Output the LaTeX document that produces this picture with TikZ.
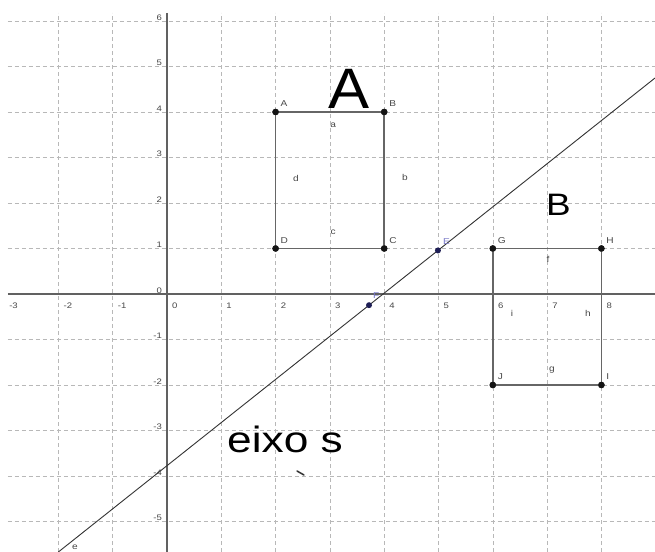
\documentclass[tikz,border=0pt]{standalone}
\usepackage{fontspec}
\setmainfont{Liberation Sans}
\usetikzlibrary{calc}
\newcommand{\sx}[2][1.19]{\scalebox{#1}[1]{#2}}
\definecolor{ptblue}{RGB}{30,30,85}
\definecolor{lblblue}{RGB}{120,120,200}
\begin{document}
\begin{tikzpicture}[x=54.3pt,y=45.5pt,
  gridln/.style={draw=black!28, line width=0.6pt, dash pattern=on 4pt off 3pt},
  axisln/.style={draw=black!62, line width=1.3pt},
  edgeln/.style={draw=black!60, line width=1.5pt},
  lineln/.style={draw=black!80, line width=0.9pt},
  pt/.style={circle, fill=black!92, inner sep=0pt, minimum size=6.5pt},
  bpt/.style={circle, fill=ptblue, inner sep=0pt, minimum size=6pt},
  tick/.style={font=\fontsize{8}{9}\selectfont, text=black!72, inner sep=0pt},
  plbl/.style={font=\fontsize{8.5}{9}\selectfont, text=black!72, inner sep=0pt},
  slbl/.style={font=\fontsize{8.5}{9}\selectfont, text=black!72, inner sep=0pt},
  elbl/.style={font=\fontsize{8.5}{9}\selectfont, text=lblblue, inner sep=0pt},
  big/.style={inner sep=0pt, text=black, text depth=0pt}]
% canvas
\fill[white] (-3.0755,-5.6703) rectangle (8.9871,6.4615);
\useasboundingbox (-3.0755,-5.6703) rectangle (8.9871,6.4615);
% grid
\foreach \i in {-2,...,8} \draw[gridln] (\i,-5.6703) -- (\i,6.176);
\foreach \j in {-5,...,6} \draw[gridln] (-2.93,\j) -- (8.9871,\j);
% axes
\coordinate (xl) at (-2.93,0);
\coordinate (xr) at (8.9871,0);
\coordinate (yb) at (0,-5.6703);
\coordinate (yt) at (0,6.176);
\draw[axisln] (xl) -- (xr);
\draw[axisln] (yb) -- (yt);
% tick labels
\foreach \i [count=\k] in {-3,...,8}
  \node[tick, anchor=base west] (tx\k) at (\i+0.092,-0.308) {\sx{\i}};
\foreach \j [count=\k] in {-5,...,6}
  \node[tick, anchor=base east] (ty\k) at (-0.09,\j+0.02) {\sx{\j}};
% rectangle A
\node[pt] (A) at (2,4) {};
\node[pt] (B) at (4,4) {};
\node[pt] (C) at (4,1) {};
\node[pt] (D) at (2,1) {};
\draw[edgeln] (A.center) -- (B.center) -- (C.center) -- (D.center) -- cycle;
\foreach \p in {A,B,C,D} \node[pt] at (\p) {};
% rectangle B
\node[pt] (G) at (6,1) {};
\node[pt] (H) at (8,1) {};
\node[pt] (I) at (8,-2) {};
\node[pt] (J) at (6,-2) {};
\draw[edgeln] (G.center) -- (H.center) -- (I.center) -- (J.center) -- cycle;
\foreach \p in {G,H,I,J} \node[pt] at (\p) {};
% point labels
\foreach \p in {A,B,C,D,G,H,I,J}
  \node[plbl, anchor=base west] (l\p) at ($(\p)+(0.09,0.11)$) {\sx{\p}};
% side labels
\node[slbl] (sa) at (3.06,3.71) {\sx{a}};
\node[slbl] (sb) at (4.383,2.571) {\sx{b}};
\node[slbl] (sc) at (3.06,1.363) {\sx{c}};
\node[slbl] (sd) at (2.376,2.549) {\sx{d}};
\node[slbl] (sf) at (7.017,0.769) {\sx{f}};
\node[slbl] (sg) at (7.09,-1.67) {\sx{g}};
\node[slbl] (sh) at (7.753,-0.418) {\sx{h}};
\node[slbl] (si) at (6.354,-0.418) {\sx{i}};
% axis line e
\coordinate (s1) at (-2.001,-5.6703);
\coordinate (s2) at (8.9871,4.747);
\draw[lineln] (s1) -- (s2);
\node[slbl] (se) at (-1.694,-5.56) {\sx{e}};
\node[bpt] (F) at ($(s1)!0.5207!(s2)$) {};
\node[bpt] (E) at ($(s1)!0.6362!(s2)$) {};
\node[elbl, anchor=base west] (lE) at ($(E)+(0.09,0.13)$) {\sx{E}};
\node[elbl, anchor=base west] (lF) at ($(F)+(0.07,0.14)$) {\sx{F}};
% big texts
\node[big, anchor=base west, font=\fontsize{57}{60}\selectfont] (tA) at (2.965,4.066) {\sx[1.08]{A}};
\node[big, anchor=base west, font=\fontsize{31}{34}\selectfont] (tB) at (6.98,1.736) {\sx{B}};
\node[big, anchor=base west, font=\fontsize{36.6}{40}\selectfont] (ts) at (1.105,-3.473) {\sx[1.21]{eixo s}};
% stray mark
\coordinate (m1) at (2.394,-3.890);
\coordinate (m2) at (2.523,-3.978);
\draw[black!80, line width=1.5pt, line cap=round] (m1) -- (m2);
\end{tikzpicture}
\end{document}
